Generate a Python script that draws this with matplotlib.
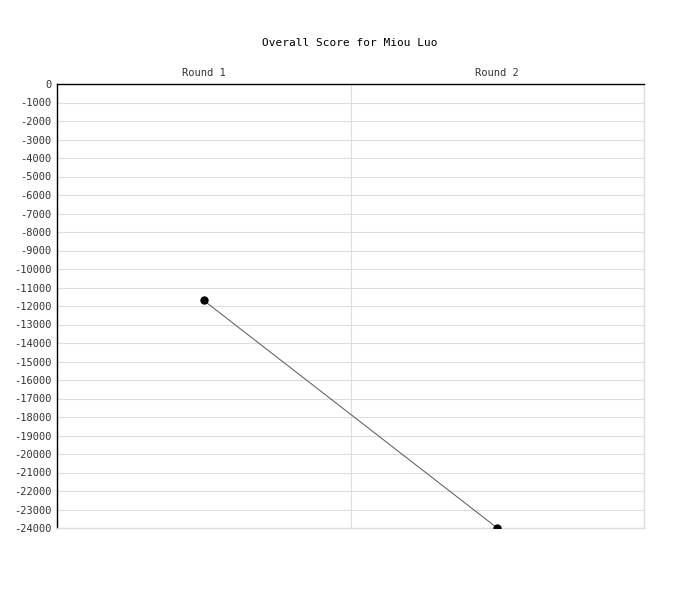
import matplotlib
matplotlib.use("Agg")
import matplotlib.pyplot as plt
from matplotlib.ticker import MultipleLocator

rounds = ["Round 1", "Round 2"]
scores = [-11700, -24000]

plt.rcParams["font.family"] = "DejaVu Sans Mono"
plt.rcParams["axes.unicode_minus"] = False

fig = plt.figure(figsize=(7, 6), dpi=100)
ax = fig.add_axes([57 / 700, 1 - 528 / 600, 587 / 700, 444 / 600])

x = [i + 0.5 for i in range(len(rounds))]
ax.plot(x, scores, color="#555555", linewidth=0.7, marker="o",
        markersize=5, markerfacecolor="black", markeredgecolor="black", zorder=3)

ax.set_xlim(0, len(rounds))
ax.set_ylim(-24000, 0)
ax.yaxis.set_major_locator(MultipleLocator(1000))
ax.set_xticks(x)
ax.set_xticklabels(rounds)
ax.xaxis.tick_top()
ax.tick_params(axis="x", length=0, pad=4, labelsize=7.5, labelcolor="#333333")
ax.tick_params(axis="y", length=0, pad=4, labelsize=7.5, labelcolor="#333333")

# vertical separators between rounds
for i in range(1, len(rounds) + 1):
    ax.axvline(i, color="#dddddd", linewidth=0.8, zorder=0)
ax.yaxis.grid(True, color="#dddddd", linewidth=0.8, zorder=0)
ax.set_axisbelow(True)

ax.spines["top"].set_color("black")
ax.spines["left"].set_color("black")
ax.spines["bottom"].set_color("#dddddd")
ax.spines["right"].set_color("#dddddd")
for s in ax.spines.values():
    s.set_linewidth(1)

fig.text(350 / 700, 1 - 43 / 600, "Overall Score for Miou Luo",
         ha="center", va="center", fontsize=8)

fig.savefig("out.png", dpi=100)
